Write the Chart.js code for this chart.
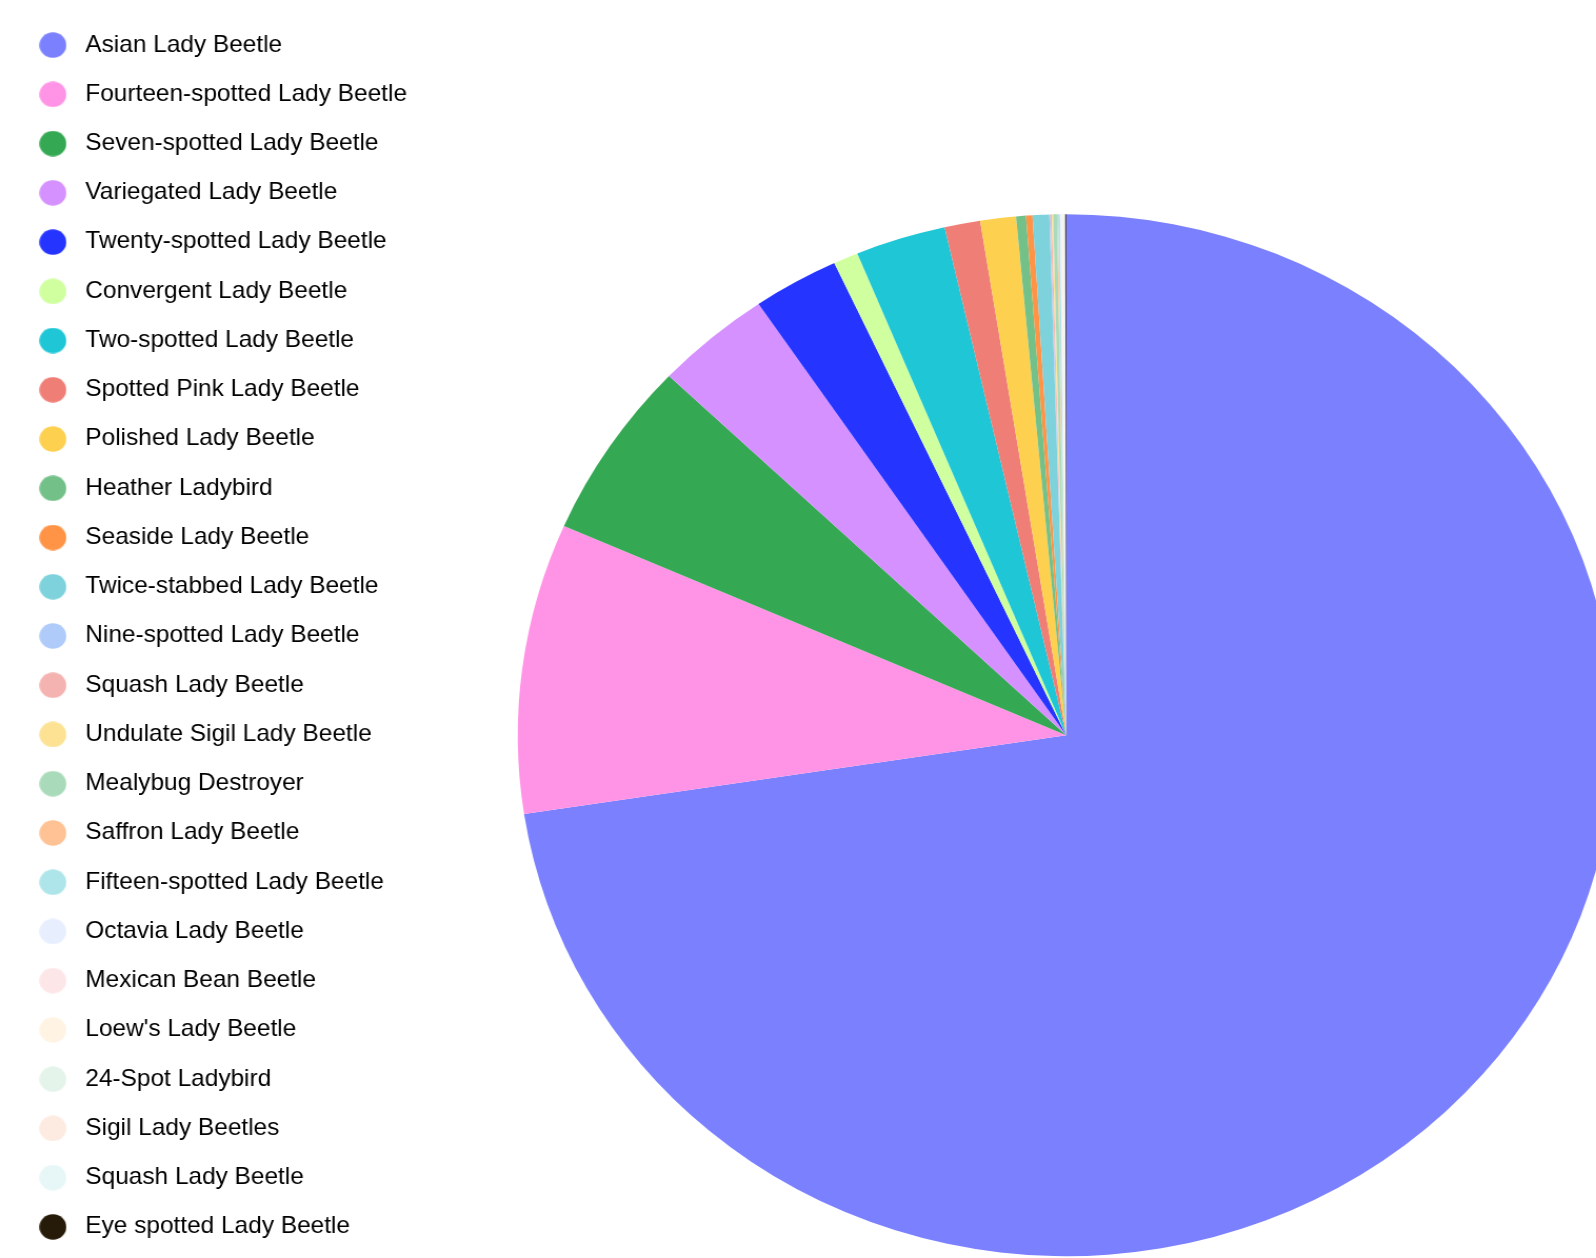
<!DOCTYPE html>
<html>
<head>
<meta charset="utf-8">
<script src="https://cdn.jsdelivr.net/npm/chart.js@4.4.1/dist/chart.umd.min.js"></script>
<style>
  html, body { margin: 0; padding: 0; background: #ffffff; overflow: hidden; width: 1596px; height: 1258px; }
  #wrap { position: absolute; left: 0; top: 0; width: 1629px; height: 1272px; transform: scaleX(1.0528); transform-origin: 0 0; }
</style>
</head>
<body>
<div id="wrap"><canvas id="c"></canvas></div>
<script>
const categories = [
  "Asian Lady Beetle",
  "Fourteen-spotted Lady Beetle",
  "Seven-spotted Lady Beetle",
  "Variegated Lady Beetle",
  "Twenty-spotted Lady Beetle",
  "Convergent Lady Beetle",
  "Two-spotted Lady Beetle",
  "Spotted Pink Lady Beetle",
  "Polished Lady Beetle",
  "Heather Ladybird",
  "Seaside Lady Beetle",
  "Twice-stabbed Lady Beetle",
  "Nine-spotted Lady Beetle",
  "Squash Lady Beetle",
  "Undulate Sigil Lady Beetle",
  "Mealybug Destroyer",
  "Saffron Lady Beetle",
  "Fifteen-spotted Lady Beetle",
  "Octavia Lady Beetle",
  "Mexican Bean Beetle",
  "Loew's Lady Beetle",
  "24-Spot Ladybird",
  "Sigil Lady Beetles",
  "Squash Lady Beetle",
  "Eye spotted Lady Beetle"
];
const sightings = [
  72.58, 9.00, 5.53, 3.41, 2.53, 0.73, 2.66, 1.05, 1.05, 0.29, 0.19, 0.49,
  0.03, 0.04, 0.04, 0.11, 0.03, 0.06, 0.025, 0.025, 0.025, 0.025, 0.025, 0.025, 0.03
];
const sliceColors = [
  "#7B80FF", "#FF93E5", "#35A853", "#D591FF", "#2634FF", "#D0FFA0", "#1EC6D6",
  "#EF7F76", "#FDD14F", "#73C189", "#FF9447", "#7ED2DC", "#AFCBFA", "#F4B3B0",
  "#FDE294", "#A9DBBA", "#FFC294", "#AEE5EA", "#E7EEFE", "#FDE6E8", "#FFF4E3",
  "#E5F4EA", "#FDEAE1", "#E7F6F7", "#261A08"
];

function makeDot(color) {
  const cv = document.createElement('canvas');
  cv.width = 26; cv.height = 26;
  const g = cv.getContext('2d');
  g.fillStyle = color;
  g.beginPath();
  g.arc(13, 13, 12.8, 0, Math.PI * 2);
  g.fill();
  return cv;
}
const dots = sliceColors.map(makeDot);

new Chart(document.getElementById('c'), {
  type: 'pie',
  data: {
    labels: categories,
    datasets: [{
      data: sightings,
      backgroundColor: sliceColors,
      borderWidth: 0,
      radius: 521
    }]
  },
  options: {
    responsive: true,
    maintainAspectRatio: false,
    animation: false,
    layout: { padding: { left: 5, right: 0, top: 0, bottom: 0 } },
    plugins: {
      title: { display: true, text: '', font: { size: 10 }, padding: { top: 186.4, bottom: 0 } },
      tooltip: { enabled: false },
      legend: {
        position: 'left',
        align: 'center',
        labels: {
          usePointStyle: true,
          pointStyleWidth: 38.4,
          padding: 26.04,
          color: '#1a1a1a',
          font: { family: '"Liberation Sans", Arial, sans-serif', size: 23.2 },
          generateLabels(chart) {
            const ds = chart.data.datasets[0];
            return chart.data.labels.map((label, i) => ({
              text: label,
              fillStyle: ds.backgroundColor[i],
              strokeStyle: ds.backgroundColor[i],
              lineWidth: 0,
              pointStyle: dots[i],
              hidden: !chart.getDataVisibility(i),
              index: i
            }));
          }
        }
      }
    }
  }
});
</script>
</body>
</html>
